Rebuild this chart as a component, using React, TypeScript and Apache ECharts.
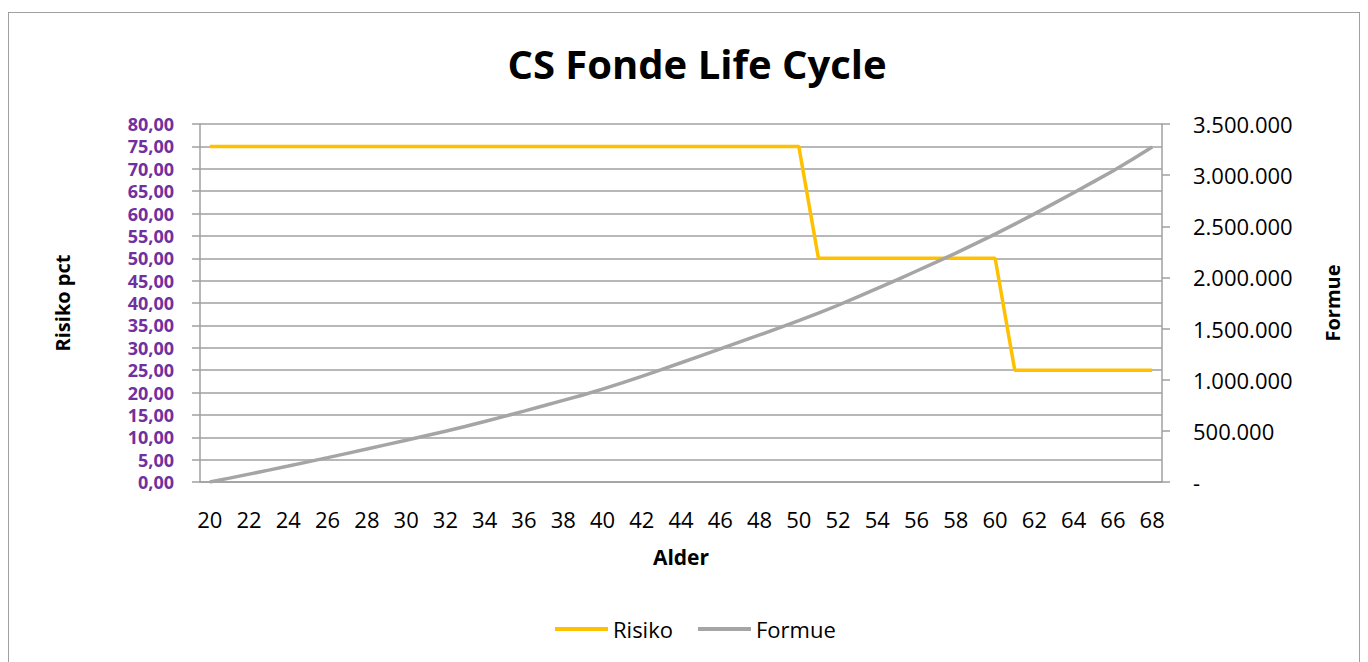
import React, { useEffect, useRef } from "react";
import * as echarts from "echarts";

const ages: string[] = [
  "20","21","22","23","24","25","26","27","28","29",
  "30","31","32","33","34","35","36","37","38","39",
  "40","41","42","43","44","45","46","47","48","49",
  "50","51","52","53","54","55","56","57","58","59",
  "60","61","62","63","64","65","66","67","68",
];

const risiko: number[] = [
  75,75,75,75,75,75,75,75,75,75,
  75,75,75,75,75,75,75,75,75,75,
  75,75,75,75,75,75,75,75,75,75,
  75,50,50,50,50,50,50,50,50,50,
  50,25,25,25,25,25,25,25,25,
];

const formue: number[] = [
  0, 38000, 77000, 116000, 156000, 197000, 238000, 280000, 322000, 365000,
  408000, 452000, 496000, 543000, 592000, 642000, 693000, 745000, 798000, 851000,
  908000, 969000, 1033000, 1099000, 1166000, 1234000, 1302000, 1370000, 1438000, 1506000,
  1577000, 1650000, 1728000, 1810000, 1893000, 1977000, 2063000, 2149000, 2238000, 2330000,
  2423000, 2521000, 2621000, 2724000, 2828000, 2934000, 3041000, 3155000, 3275000,
];

const FONT = "'Open Sans', 'Noto Sans', sans-serif";

function fmtDK(v: number): string {
  if (v === 0) return "-";
  return String(Math.round(v)).replace(/\B(?=(\d{3})+(?!\d))/g, ".");
}

export default function App() {
  const ref = useRef<HTMLDivElement>(null);
  useEffect(() => {
    if (!ref.current) return;
    const chart = echarts.init(ref.current, null, { renderer: "svg" });
    const gridColor = "#a0a0a0";
    chart.setOption({
      animation: false,
      backgroundColor: "#ffffff",
      title: {
        text: "CS Fonde Life Cycle",
        left: 683,
        top: 25,
        textAlign: "center",
        textStyle: { fontFamily: FONT, fontWeight: "bold", fontSize: 40, color: "#000" },
      },
      legend: {
        left: 541,
        top: 600,
        icon: "rect",
        itemWidth: 53,
        itemHeight: 4,
        itemGap: 25,
        textStyle: { fontFamily: FONT, fontSize: 22, color: "#000" },
        data: ["Risiko", "Formue"],
      },
      grid: { left: 191, right: 197, top: 111, bottom: 180 },
      xAxis: {
        type: "category",
        data: ages,
        boundaryGap: true,
        name: "Alder",
        nameLocation: "middle",
        nameGap: 64,
        nameTextStyle: { fontFamily: FONT, fontWeight: "bold", fontSize: 21, color: "#000" },
        axisLine: { show: true, lineStyle: { color: gridColor, width: 1.5 } },
        axisTick: { show: false },
        axisLabel: { interval: 1, margin: 26, fontFamily: FONT, fontSize: 22, color: "#000" },
      },
      yAxis: [
        {
          type: "value",
          min: 0,
          max: 80,
          interval: 5,
          name: "Risiko pct",
          nameLocation: "middle",
          nameRotate: 90,
          nameGap: 128,
          nameTextStyle: { fontFamily: FONT, fontWeight: "bold", fontSize: 20, color: "#000" },
          axisLine: { show: true, lineStyle: { color: gridColor, width: 1.5 } },
          axisTick: { show: true, length: 8, lineStyle: { color: gridColor, width: 1.5 } },
          splitLine: { show: true, lineStyle: { color: gridColor, width: 1.5 } },
          axisLabel: {
            margin: 26,
            fontFamily: FONT,
            fontWeight: "bold",
            fontSize: 18,
            lineHeight: 18,
            color: "#7030A0",
            formatter: (v: number) => v.toFixed(2).replace(".", ","),
          },
        },
        {
          type: "value",
          min: 0,
          max: 3500000,
          interval: 500000,
          name: "Formue",
          nameLocation: "middle",
          nameRotate: 90,
          nameGap: 160,
          nameTextStyle: { fontFamily: FONT, fontWeight: "bold", fontSize: 20, color: "#000" },
          axisLine: { show: true, lineStyle: { color: gridColor, width: 1.5 } },
          axisTick: { show: true, length: 8, lineStyle: { color: gridColor, width: 1.5 } },
          splitLine: { show: false },
          axisLabel: {
            margin: 31,
            fontFamily: FONT,
            fontSize: 22,
            color: "#000",
            formatter: fmtDK,
          },
        },
      ],
      series: [
        {
          name: "Risiko",
          type: "line",
          yAxisIndex: 0,
          data: risiko,
          symbol: "none",
          lineStyle: { color: "#FFC000", width: 3.5 },
          itemStyle: { color: "#FFC000" },
        },
        {
          name: "Formue",
          type: "line",
          yAxisIndex: 1,
          data: formue,
          symbol: "none",
          lineStyle: { color: "#A5A5A5", width: 3.5 },
          itemStyle: { color: "#A5A5A5" },
        },
      ],
    });
    return () => chart.dispose();
  }, []);

  return (
    <div
      style={{
        marginTop: 4,
        width: 1350,
        height: 649,
        border: "1px solid #a0a0a0",
        borderBottom: "none",
      }}
    >
      <div ref={ref} style={{ width: 1350, height: 649 }} />
    </div>
  );
}
